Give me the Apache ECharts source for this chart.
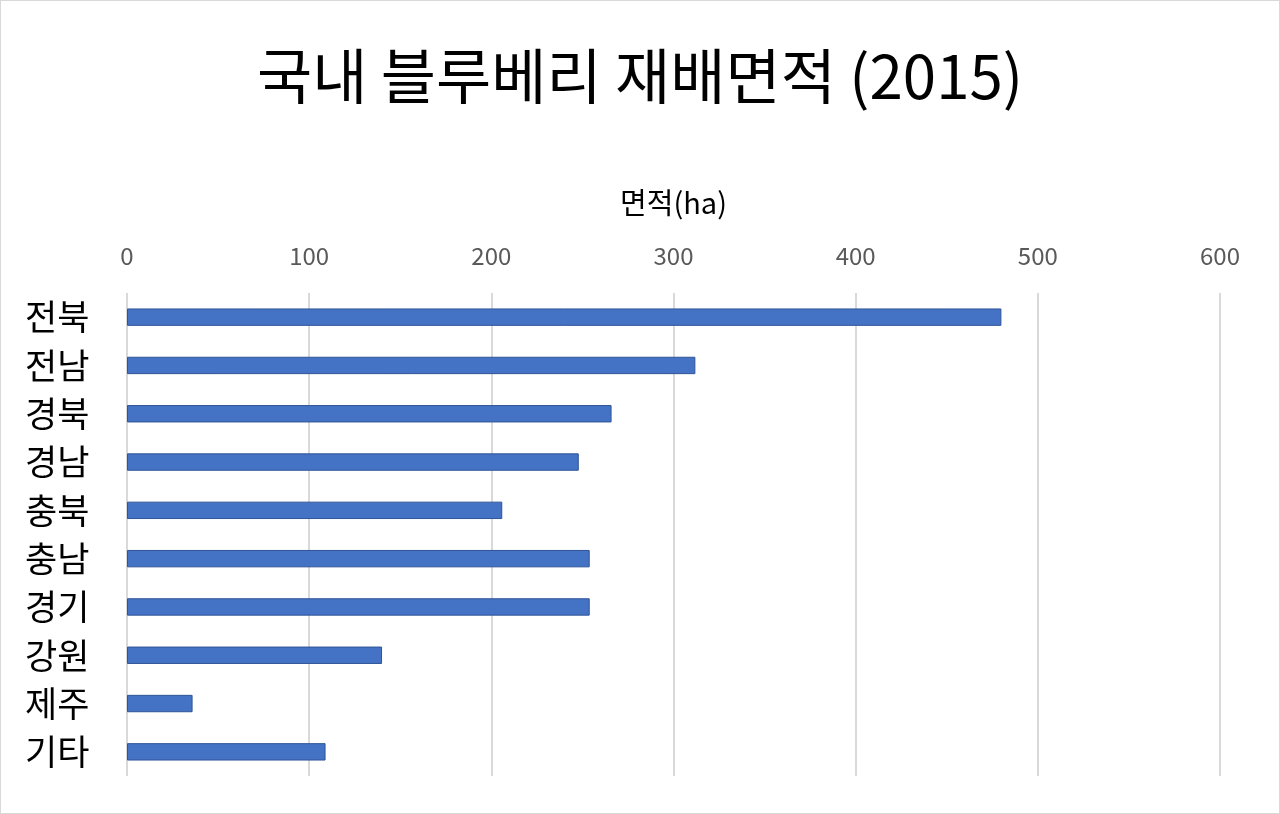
<!DOCTYPE html>
<html>
<head>
<meta charset="utf-8">
<script src="https://cdn.jsdelivr.net/npm/echarts@6/dist/echarts.min.js"></script>
<style>
  html, body { margin: 0; padding: 0; background: #fff; }
  #main { width: 1278px; height: 812px; border: 1px solid #d9d9d9; }
</style>
</head>
<body>
<div id="main"></div>
<script>
var regions = ['전북', '전남', '경북', '경남', '충북', '충남', '경기', '강원', '제주', '기타'];
var areas = [480, 312, 266, 248, 206, 254, 254, 140, 36, 109];
var xTicks = [0, 100, 200, 300, 400, 500, 600];

var font = '"Noto Sans CJK KR", "Noto Sans", sans-serif';
var myChart = echarts.init(document.getElementById('main'));

var option = {
    animation: false,
    title: {
        text: '국내 블루베리 재배면적 (2015)',
        left: 'center',
        top: 40,
        textStyle: { fontFamily: font, fontSize: 60, fontWeight: 'normal', color: '#000', letterSpacing: 1 }
    },
    grid: { left: 126, right: 59, top: 292, bottom: 37 },
    xAxis: {
        type: 'value',
        position: 'top',
        min: xTicks[0],
        max: xTicks[xTicks.length - 1],
        interval: 100,
        name: '면적(ha)',
        nameLocation: 'middle',
        nameGap: 76,
        nameTextStyle: { fontFamily: font, fontSize: 29, color: '#000' },
        axisLine: { show: false },
        axisTick: { show: false },
        axisLabel: { fontFamily: font, fontSize: 24, color: '#595959', margin: 25 },
        splitLine: { lineStyle: { color: '#d9d9d9', width: 2 } }
    },
    yAxis: {
        type: 'category',
        inverse: true,
        data: regions,
        axisLine: { show: false },
        axisTick: { show: false },
        axisLabel: { fontFamily: font, fontSize: 35, color: '#000', align: 'left', margin: 102, padding: [8, 0, 0, 0] }
    },
    series: [{
        type: 'bar',
        data: areas,
        barWidth: '36%',
        itemStyle: { color: '#4472C4', borderColor: '#2f5597', borderWidth: 1 }
    }]
};
myChart.setOption(option);
</script>
</body>
</html>
